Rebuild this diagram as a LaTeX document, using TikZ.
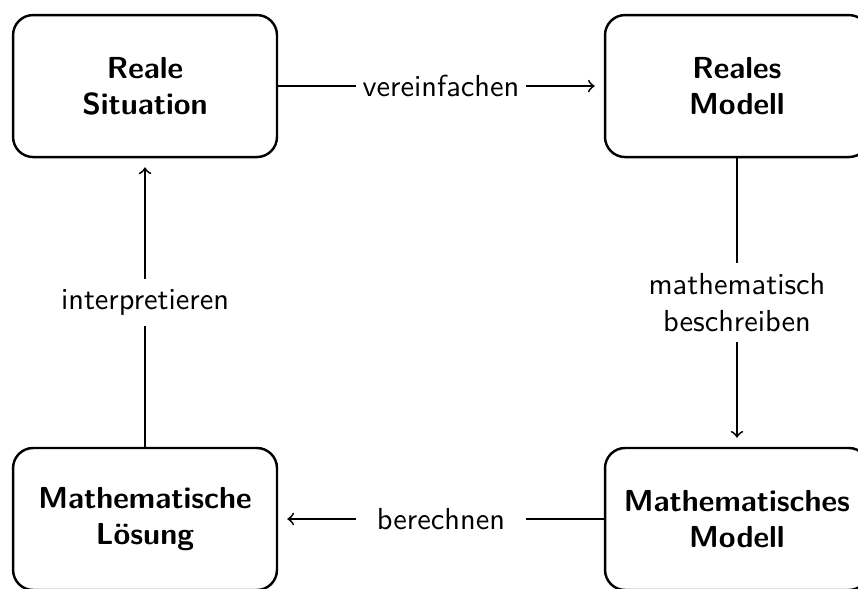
\documentclass[tikz,border=0pt]{standalone}
\usepackage{fontspec}
\usetikzlibrary{positioning}

\begin{document}
\begin{tikzpicture}[shorten >=3pt,node distance=142.4pt and 194.7pt,on grid,
    stage/.style={draw,thick,rounded corners=6.6pt,minimum width=86.8pt,
      minimum height=46.7pt,align=center,font=\sffamily\bfseries},
    act/.style={fill=white,font=\sffamily,align=center,inner xsep=2pt,
      minimum width=56pt}]
   \useasboundingbox (-47.7pt,28.3pt) rectangle (234.5pt,-165.1pt);
   \node[stage] (rs) {Reale\\Situation};
   \node[stage] (rm) [right=of rs] {Reales\\Modell};
   \node[stage] (mm) [below=of rm] {Mathematisches\\Modell};
   \node[stage] (ml) [below=of rs] {Mathematische\\Lösung};
    \path[->,semithick]
    (rs) edge node[act] {vereinfachen} (rm)
    (rm) edge node[act] {mathematisch\\beschreiben} (mm)
    (mm) edge node[act] {berechnen} (ml)
    (ml) edge node[act] {interpretieren} (rs);
\end{tikzpicture}
\end{document}
